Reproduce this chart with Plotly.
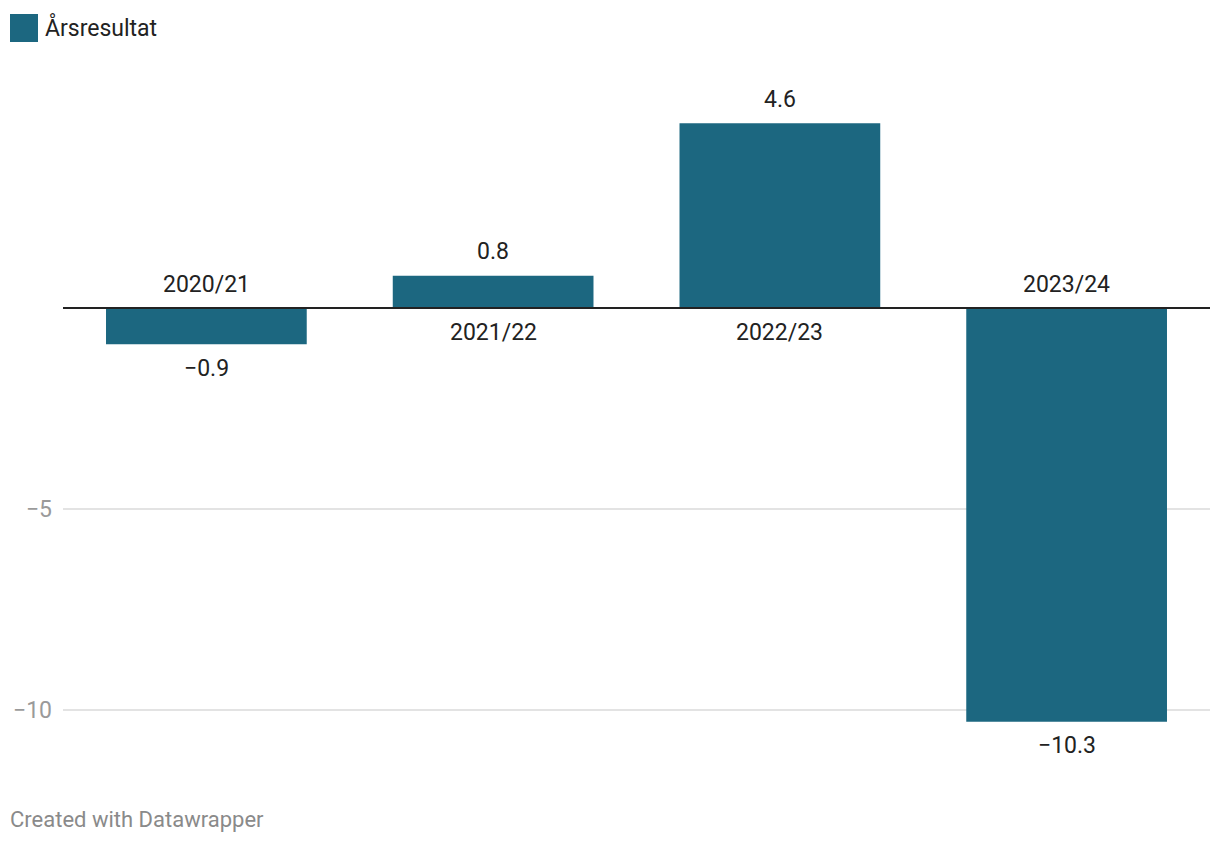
import plotly.graph_objects as go

categories = ["2020/21", "2021/22", "2022/23", "2023/24"]
values = [-0.9, 0.8, 4.6, -10.3]
value_labels = ["\u22120.9", "0.8", "4.6", "\u221210.3"]
tick_vals = [-10, -5]
tick_text = ["\u221210", "\u22125"]
series_name = "Årsresultat"

BAR = "#1c6780"
OFF = 8  # page offset of the figure inside the browser window
W, H = 1220 - OFF, 844 - OFF
ML, MR, MT, MB = 63 - OFF, 10, 87 - OFF, 94
PW = W - ML - MR
PH = H - MT - MB

def px_x(x):
    return (x - OFF - ML) / PW

def px_y(y):
    return (H - MB - (y - OFF)) / PH

fig = go.Figure()
fig.add_trace(go.Bar(x=categories, y=values, marker=dict(color=BAR, line=dict(width=0)),
                     width=0.7, name=series_name, hoverinfo="skip"))

annotations = []
for c, v, lab in zip(categories, values, value_labels):
    sgn = 1 if v >= 0 else -1
    annotations.append(dict(x=c, y=v, xref="x", yref="y", text=lab, showarrow=False,
                            yanchor="middle", yshift=24 * sgn,
                            font=dict(family="Roboto", size=23, color="#222222")))
    annotations.append(dict(x=c, y=0, xref="x", yref="y", text=c, showarrow=False,
                            yanchor="middle", yshift=-24 * sgn,
                            font=dict(family="Roboto", size=23, color="#222222")))

annotations.append(dict(x=px_x(43), y=px_y(27), xref="paper", yref="paper", text=series_name,
                        showarrow=False, xanchor="left", yanchor="middle",
                        font=dict(family="Roboto", size=23, color="#222222")))
annotations.append(dict(x=px_x(8), y=px_y(819), xref="paper", yref="paper",
                        text="Created with Datawrapper", showarrow=False,
                        xanchor="left", yanchor="middle",
                        font=dict(family="Roboto", size=22, color="#8a8a8a")))

shapes = [
    dict(type="line", xref="paper", yref="y", x0=0, x1=1, y0=0, y1=0,
         line=dict(color="#222222", width=2), layer="above"),
    dict(type="rect", xref="paper", yref="paper", x0=px_x(10), x1=px_x(38),
         y0=px_y(42), y1=px_y(14), fillcolor=BAR, line=dict(width=0)),
]

fig.update_layout(
    width=W, height=H,
    margin=dict(l=ML, r=MR, t=MT, b=MB, autoexpand=False),
    paper_bgcolor="white", plot_bgcolor="white",
    showlegend=False, bargap=0.3,
    font=dict(family="Roboto", size=23, color="#222222"),
    xaxis=dict(showticklabels=False, showgrid=False, zeroline=False, showline=False,
               ticks="", range=[-0.5, 3.5], automargin=False),
    yaxis=dict(range=[-11, 5.5], tickvals=tick_vals, ticktext=tick_text,
               showgrid=True, gridcolor="#e3e3e3", gridwidth=2, zeroline=False,
               showline=False, ticks="", ticklabelstandoff=10, automargin=False,
               tickfont=dict(family="Roboto", size=23, color="#9a9a9a")),
    annotations=annotations, shapes=shapes,
)

fig.write_html("out.html")
